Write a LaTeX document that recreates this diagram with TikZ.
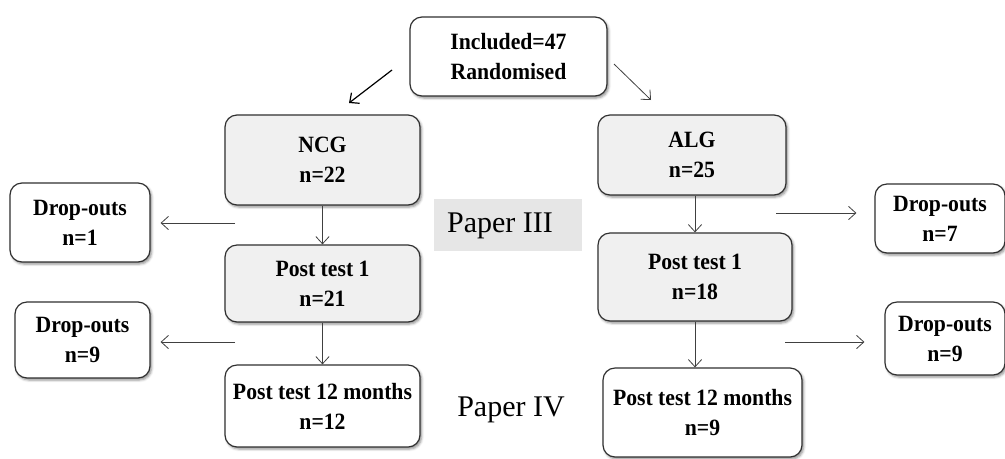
\documentclass[tikz,border=0pt]{standalone}
\usepackage{fontspec}
\setmainfont{Liberation Serif}
\newfontfamily\boxfont[FakeStretch=0.93]{Liberation Serif}
\usetikzlibrary{arrows.meta,shadows.blur}
\definecolor{boxgray}{HTML}{F0F0F0}
\definecolor{papergray}{HTML}{E6E6E6}
\definecolor{edge}{HTML}{303030}
\definecolor{lnk}{HTML}{404040}
\tikzset{
  box/.style={draw=edge, line width=0.9pt, rounded corners=9pt, fill=white,
    align=center, inner sep=0pt, font=\boxfont\bfseries\fontsize{17.5}{22.5}\selectfont,
    blur shadow={shadow xshift=1.2pt, shadow yshift=-1.5pt, shadow blur steps=4, shadow opacity=45}},
  graybox/.style={box, fill=boxgray},
  link/.style={draw=lnk, line width=0.6pt, -{Straight Barb[length=5.5pt,width=10pt]}},
  paper/.style={font=\fontsize{22.5}{26}\selectfont, inner sep=0pt}
}
\begin{document}
\begin{tikzpicture}[x=0.75pt,y=-0.75pt]
\useasboundingbox (0,0) rectangle (1005,458);
% nodes
\node[box, minimum width=147.75pt, minimum height=59.25pt] (top) at (508.5,56.5) {Included=47\\Randomised};
\node[graybox, minimum width=146.25pt, minimum height=67.5pt] (ncg) at (322.5,160) {NCG\\n=22};
\node[graybox, minimum width=146.25pt, minimum height=57.75pt] (pt1L) at (322.5,283.5) {Post test 1\\n=21};
\node[box, minimum width=146.25pt, minimum height=61.5pt] (pt12L) at (322.5,406) {Post test 12 months\\n=12};
\node[box, minimum width=105pt, minimum height=59.25pt] (do1) at (80,222.5) {Drop-outs\\n=1};
\node[box, minimum width=101.25pt, minimum height=57pt] (do2) at (82.5,340) {Drop-outs\\n=9};
\node[graybox, minimum width=141pt, minimum height=60pt] (alg) at (692,155) {ALG\\n=25};
\node[graybox, minimum width=145.5pt, minimum height=66pt] (pt1R) at (695,277) {Post test 1\\n=18};
\node[box, minimum width=149.25pt, minimum height=66.75pt] (pt12R) at (702.5,412.5) {Post test 12 months\\n=9};
\node[box, minimum width=97.5pt, minimum height=51.75pt] (do3) at (940,218.5) {Drop-outs\\n=7};
\node[box, minimum width=90pt, minimum height=54.75pt] (do4) at (945,338.5) {Drop-outs\\n=9};
% paper labels
\node[fill=papergray, minimum width=111pt, minimum height=39pt, inner sep=0pt] (p3bg) at (508,225) {};
\node[paper] (p3) at (500,226) {Paper III};
\node[paper] (p4) at (511,410) {Paper IV};
% free ends
\coordinate (dl1) at (392,70);
\coordinate (dl2) at (349,103);
\coordinate (dr1) at (614,64);
\coordinate (dr2) at (651,100);
\coordinate (l1) at (235,223);
\coordinate (l2) at (235,342);
\coordinate (r1) at (776,213);
\coordinate (r2) at (785,342);
% connectors
\draw[link, draw=black, line width=0.9pt] (dl1) -- (dl2);
\draw[link] (dr1) -- (dr2);
\draw[link] (ncg.south) -- (pt1L.north);
\draw[link] (pt1L.south) -- (pt12L.north);
\draw[link] (alg.south -| pt1R.north) -- (pt1R.north);
\draw[link] (pt1R.south) -- (pt1R.south |- pt12R.north);
\draw[link, shorten >=7.5pt] (l1) -- (l1 -| do1.east);
\draw[link, shorten >=7.5pt] (l2) -- (l2 -| do2.east);
\draw[link, shorten >=13.5pt] (r1) -- (r1 -| do3.west);
\draw[link, shorten >=15pt] (r2) -- (r2 -| do4.west);
\end{tikzpicture}
\end{document}
